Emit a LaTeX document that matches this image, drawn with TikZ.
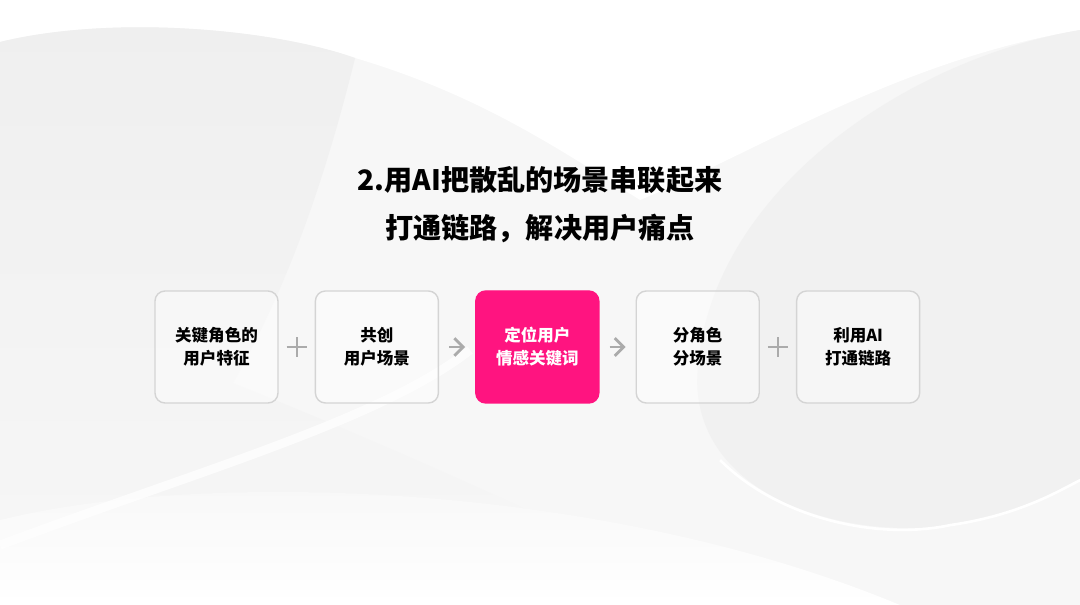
\documentclass[tikz,border=0pt]{standalone}
\usepackage{fontspec}
\newfontfamily\cjk{Noto Sans CJK SC}
\usetikzlibrary{arrows.meta,positioning}

\definecolor{hotpink}{HTML}{FF1480}
\definecolor{boxline}{HTML}{D4D4D4}
\definecolor{signgray}{HTML}{ABABAB}
\definecolor{paper}{HTML}{F7F7F7}
\definecolor{shadegray}{HTML}{EFEFEF}
\definecolor{lensgray}{HTML}{F1F1F1}

\begin{document}
\begin{tikzpicture}[scale=1,
  stepbox/.style={draw=boxline, line width=0.8pt, rounded corners=0.2cm,
    fill=white, fill opacity=0.4, text opacity=1,
    minimum width=2.46cm, minimum height=2.24cm, align=center,
    font=\cjk\bfseries\fontsize{9.4}{13}\selectfont},
  keybox/.style={stepbox, draw=hotpink, fill=hotpink, fill opacity=1, text=white},
  joinarrow/.style={-{Straight Barb[length=5pt,width=10pt]}, signgray,
    line width=1.6pt, shorten >=0.2cm, shorten <=0.2cm}]

  \def\picw{21.6}
  \def\pich{12.1}
  \def\rowy{5.16}

  \useasboundingbox (0,0) rectangle (\picw,\pich);

  % soft background sheets, drawn in pixel units from the top left
  \begin{scope}[x=0.02cm, y=-0.02cm, yshift=12.1cm]
    \fill[paper] (0,0) rectangle (1080,605);
    \fill[white] (0,0) -- (0,42) .. controls (110,15) and (270,28) .. (355,58)
      .. controls (480,95) and (560,150) .. (640,200)
      .. controls (760,150) and (900,60) .. (1080,30) -- (1080,0) -- cycle;
    \shade[top color=shadegray, bottom color=paper]
      (0,42) .. controls (110,15) and (270,28) .. (355,58)
      .. controls (320,200) and (280,300) .. (233,383)
      .. controls (400,450) and (600,540) .. (720,605)
      -- (0,605) -- cycle;
    \shade[top color=paper, bottom color=white]
      (0,520) .. controls (200,470) and (600,480) .. (900,605) -- (0,605) -- cycle;
    \fill[lensgray] (1080,30) .. controls (900,60) and (700,200) .. (697,383)
      .. controls (700,500) and (850,540) .. (950,525)
      .. controls (1020,515) and (1060,490) .. (1080,480) -- cycle;
    \draw[white, line width=1.5pt] (720,460) .. controls (780,520) and (880,540) .. (950,525)
      .. controls (1020,515) and (1060,490) .. (1080,480);
    \draw[white, line width=5pt, opacity=0.7] (0,545) .. controls (200,470) and (380,420) .. (470,350);
  \end{scope}

  \node (title) at (10.8,8.5) {\cjk\bfseries\fontsize{16}{20}\selectfont 2.用AI把散乱的场景串联起来};
  \node (subtitle) at (10.8,7.54) {\cjk\bfseries\fontsize{16}{20}\selectfont 打通链路，解决用户痛点};

  \begin{scope}[node distance=0.72cm]
    \node[stepbox] (trait) at (4.33,\rowy) {关键角色的\\用户特征};
    \node[stepbox, right=of trait] (scene) {共创\\用户场景};
    \node[keybox, right=of scene] (keyword) {定位用户\\情感关键词};
    \node[stepbox, right=of keyword] (split) {分角色\\分场景};
    \node[stepbox, right=of split] (link) {利用AI\\打通链路};
  \end{scope}

  % plus signs and arrows between the boxes
  \path (trait) -- (scene) coordinate[midway] (plusa);
  \path (split) -- (link) coordinate[midway] (plusb);
  \foreach \p in {plusa,plusb}
    \draw[signgray, line width=1.2pt] ([xshift=-0.2cm]\p) -- ([xshift=0.2cm]\p)
      ([yshift=-0.2cm]\p) -- ([yshift=0.2cm]\p);

  \draw[joinarrow] (scene) -- (keyword);
  \draw[joinarrow] (keyword) -- (split);

\end{tikzpicture}
\end{document}
